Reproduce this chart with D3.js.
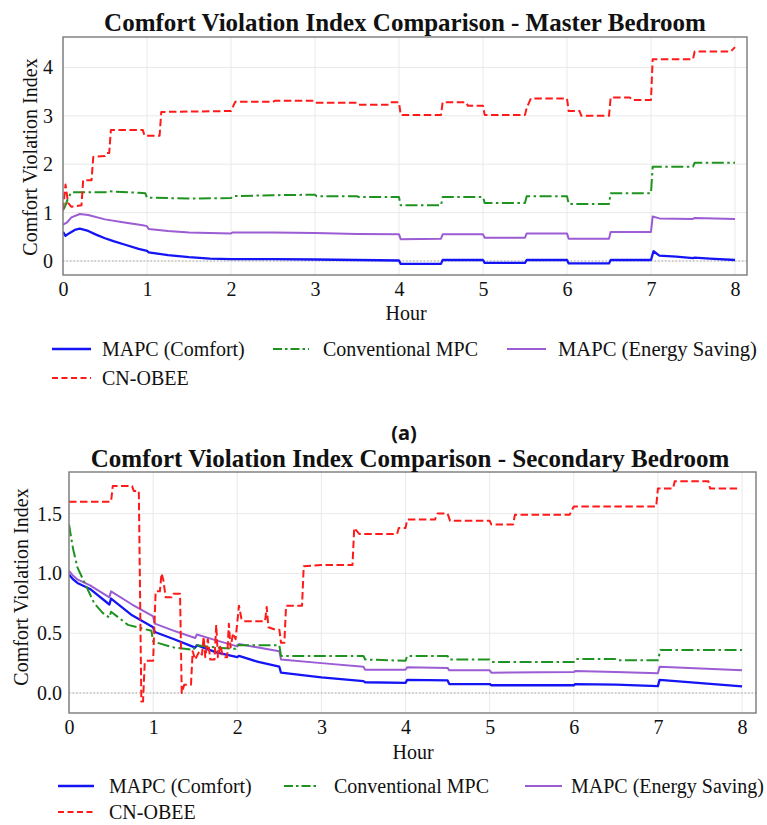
<!DOCTYPE html>
<html><head><meta charset="utf-8">
<script src="https://cdn.jsdelivr.net/npm/d3@7"></script>
<style>
html,body{margin:0;padding:0;background:#fff;}
svg text{font-family:"Liberation Serif","Times New Roman",serif;fill:#111;}
</style></head>
<body>
<svg id="chart" width="767" height="825"></svg>
<script>
// ---------- DATA ----------
const seriesNames = ["MAPC (Comfort)", "Conventional MPC", "MAPC (Energy Saving)", "CN-OBEE"];
const xTickValues = [0, 1, 2, 3, 4, 5, 6, 7, 8];
const masterYTicks = [0, 1, 2, 3, 4];
const secondaryYTicks = [0, 0.5, 1.0, 1.5];

// Master bedroom
const masterComfortHours = [0,0.03,0.08,0.15,0.2,0.3,0.4,0.5,0.6,0.75,0.9,1.0,1.02,1.25,1.5,1.75,2.0,2.5,3.0,3.5,4.0,4.02,4.5,4.52,5.0,5.02,5.5,5.52,6.0,6.02,6.5,6.52,7.0,7.03,7.1,7.3,7.5,7.52,7.7,8.0];
const masterComfortValues = [0.60,0.52,0.58,0.65,0.67,0.62,0.54,0.47,0.41,0.33,0.25,0.21,0.18,0.12,0.08,0.05,0.04,0.04,0.03,0.02,0.01,-0.06,-0.06,0.02,0.02,-0.04,-0.04,0.02,0.02,-0.05,-0.05,0.02,0.02,0.20,0.11,0.09,0.06,0.07,0.05,0.02];

const masterMpcHours = [0,0.03,0.06,0.1,0.3,0.5,0.55,0.9,0.98,1.0,1.5,2.0,2.02,2.5,3.0,3.02,3.5,3.52,4.0,4.02,4.5,4.52,5.0,5.02,5.5,5.52,6.0,6.02,6.5,6.52,7.0,7.02,7.5,7.52,8.0];
const masterMpcValues = [1.05,1.15,1.30,1.42,1.42,1.42,1.44,1.41,1.40,1.31,1.29,1.30,1.34,1.36,1.37,1.34,1.34,1.32,1.32,1.15,1.15,1.32,1.32,1.20,1.20,1.34,1.34,1.18,1.18,1.40,1.40,1.95,1.95,2.03,2.03];

const masterEnergyHours = [0,0.05,0.1,0.2,0.3,0.5,0.75,0.95,1.0,1.02,1.25,1.5,2.0,2.02,2.5,3.0,3.5,4.0,4.02,4.5,4.52,5.0,5.02,5.5,5.52,6.0,6.02,6.5,6.52,7.0,7.02,7.1,7.5,7.52,8.0];
const masterEnergyValues = [0.75,0.80,0.90,0.97,0.95,0.86,0.79,0.74,0.72,0.66,0.62,0.59,0.57,0.59,0.59,0.58,0.56,0.55,0.45,0.46,0.55,0.55,0.48,0.48,0.57,0.57,0.46,0.46,0.60,0.60,0.92,0.88,0.87,0.89,0.87];

const masterObeeHours = [0,0.03,0.06,0.1,0.22,0.24,0.34,0.36,0.5,0.52,0.55,0.57,0.95,0.97,1.15,1.17,2.0,2.05,2.5,2.52,3.0,3.02,3.5,3.52,3.88,3.9,4.0,4.02,4.5,4.52,4.8,4.82,5.0,5.02,5.5,5.52,5.57,6.0,6.02,6.15,6.17,6.5,6.52,6.75,6.77,7.0,7.02,7.5,7.52,7.95,8.0];
const masterObeeValues = [1.05,1.58,1.20,1.12,1.15,1.67,1.67,2.15,2.17,2.23,2.23,2.71,2.71,2.59,2.59,3.08,3.10,3.29,3.29,3.31,3.31,3.27,3.27,3.23,3.23,3.28,3.28,3.02,3.02,3.28,3.28,3.21,3.21,3.02,3.02,3.16,3.36,3.36,3.10,3.10,3.00,3.00,3.38,3.38,3.33,3.33,4.17,4.17,4.33,4.33,4.42];

// Secondary bedroom
const secondaryComfortHours = [0,0.05,0.1,0.25,0.48,0.5,0.75,1.0,1.02,1.25,1.5,1.52,1.75,2.0,2.02,2.25,2.5,2.52,3.0,3.5,3.52,4.0,4.02,4.5,4.52,5.0,5.02,6.0,6.02,6.5,7.0,7.02,8.0];
const secondaryComfortValues = [0.99,0.95,0.92,0.87,0.74,0.79,0.65,0.55,0.51,0.45,0.38,0.40,0.34,0.30,0.31,0.26,0.22,0.17,0.13,0.10,0.09,0.085,0.11,0.105,0.075,0.075,0.065,0.065,0.075,0.07,0.058,0.11,0.056];

const secondaryMpcHours = [0,0.03,0.05,0.1,0.2,0.3,0.4,0.48,0.5,0.7,0.98,1.0,1.25,1.48,1.5,1.75,1.98,2.0,2.5,2.52,3.0,3.5,3.52,4.0,4.02,4.5,4.52,5.0,5.02,6.0,6.02,6.5,6.52,7.0,7.03,8.0];
const secondaryMpcValues = [1.41,1.28,1.20,1.05,0.90,0.75,0.67,0.63,0.68,0.57,0.52,0.43,0.38,0.36,0.40,0.38,0.37,0.40,0.40,0.31,0.31,0.31,0.28,0.27,0.31,0.31,0.28,0.28,0.26,0.26,0.285,0.285,0.275,0.275,0.36,0.36];

const secondaryEnergyHours = [0,0.05,0.1,0.25,0.48,0.5,0.75,0.98,1.0,1.02,1.25,1.5,1.52,1.75,2.0,2.02,2.25,2.5,2.52,3.0,3.5,3.52,4.0,4.02,4.5,4.52,5.0,5.02,6.0,6.02,6.5,7.0,7.02,8.0];
const secondaryEnergyValues = [1.02,0.98,0.95,0.90,0.80,0.85,0.74,0.65,0.64,0.58,0.52,0.46,0.49,0.44,0.39,0.41,0.38,0.35,0.28,0.25,0.22,0.195,0.195,0.215,0.21,0.19,0.19,0.17,0.175,0.185,0.175,0.165,0.22,0.19];

const secondaryObeeHours = [0,0.5,0.52,0.75,0.77,0.83,0.86,0.88,0.9,0.92,1.0,1.03,1.08,1.1,1.12,1.15,1.22,1.24,1.32,1.34,1.37,1.45,1.47,1.5,1.55,1.58,1.6,1.62,1.65,1.68,1.73,1.75,1.77,1.8,1.83,1.88,1.9,1.92,1.95,1.98,2.02,2.05,2.08,2.33,2.35,2.37,2.45,2.5,2.52,2.56,2.58,2.77,2.79,3.0,3.37,3.39,3.45,3.9,3.92,4.0,4.02,4.35,4.38,4.5,4.53,5.0,5.02,5.28,5.3,5.95,6.0,6.98,7.0,7.18,7.2,7.6,7.62,7.98];
const secondaryObeeValues = [1.60,1.60,1.73,1.73,1.69,1.69,-0.07,-0.07,0.25,0.27,0.27,0.85,0.85,1.00,0.95,0.80,0.80,0.83,0.83,0.00,0.07,0.07,0.35,0.28,0.35,0.32,0.47,0.30,0.45,0.28,0.28,0.57,0.30,0.40,0.30,0.30,0.58,0.38,0.50,0.45,0.73,0.62,0.60,0.60,0.72,0.55,0.53,0.53,0.42,0.42,0.73,0.73,1.06,1.07,1.07,1.38,1.33,1.33,1.38,1.38,1.45,1.45,1.50,1.50,1.44,1.44,1.41,1.41,1.49,1.49,1.56,1.56,1.71,1.71,1.77,1.77,1.71,1.71];

// ---------- STYLE ----------
const styles = [
  {color:"#1414f5", width:2.3, dash:null},
  {color:"#1f931f", width:2, dash:"12,3.5,2.5,3.5"},
  {color:"#9b5cd4", width:2, dash:null},
  {color:"#ff1a1a", width:2, dash:"7.5,3.5"}
];
const serif = "'Liberation Serif','Times New Roman',serif";

const svg = d3.select("#chart");
const zip = (xs, ys) => xs.map((h, i) => [h, ys[i]]);

function drawPanel(cfg) {
  const g = svg.append("g");
  const x = d3.scaleLinear().domain(cfg.xDomain).range([cfg.left, cfg.right]);
  const y = d3.scaleLinear().domain(cfg.yDomain).range([cfg.bottom, cfg.top]);

  // grid
  g.append("g").selectAll("line").data(xTickValues).join("line")
    .attr("x1", d => x(d)).attr("x2", d => x(d))
    .attr("y1", cfg.top).attr("y2", cfg.bottom)
    .attr("stroke", "#e9e9e9").attr("stroke-width", 1);
  g.append("g").selectAll("line").data(cfg.yTicks).join("line")
    .attr("x1", cfg.left).attr("x2", cfg.right)
    .attr("y1", d => y(d)).attr("y2", d => y(d))
    .attr("stroke", "#e9e9e9").attr("stroke-width", 1);

  // zero reference line
  g.append("line")
    .attr("x1", cfg.left).attr("x2", cfg.right)
    .attr("y1", y(0)).attr("y2", y(0))
    .attr("stroke", "#a8a8a8").attr("stroke-width", 1.1)
    .attr("stroke-dasharray", "1.5,2");

  // series
  const clipId = "clip" + cfg.id;
  svg.append("clipPath").attr("id", clipId).append("rect")
    .attr("x", cfg.left).attr("y", cfg.top)
    .attr("width", cfg.right - cfg.left).attr("height", cfg.bottom - cfg.top);
  const line = d3.line().x(d => x(d[0])).y(d => y(d[1]));
  const order = [0, 2, 1, 3];
  order.forEach(i => {
    const s = cfg.series[i];
    g.append("path")
      .attr("clip-path", `url(#${clipId})`)
      .attr("d", line(zip(s[0], s[1])))
      .attr("fill", "none")
      .attr("stroke", styles[i].color)
      .attr("stroke-width", styles[i].width)
      .attr("stroke-linejoin", "round")
      .attr("stroke-dasharray", styles[i].dash);
  });

  // frame
  g.append("rect")
    .attr("x", cfg.left).attr("y", cfg.top)
    .attr("width", cfg.right - cfg.left).attr("height", cfg.bottom - cfg.top)
    .attr("fill", "none").attr("stroke", "#7a7a7a").attr("stroke-width", 1.4);

  // axes
  const xa = g.append("g").attr("transform", `translate(0,${cfg.bottom})`)
    .call(d3.axisBottom(x).tickValues(xTickValues).tickSize(0).tickPadding(7).tickFormat(d3.format("d")));
  xa.select(".domain").remove();
  xa.attr("font-family", null);
  xa.selectAll("text").style("font-size", "20px").style("font-family", serif).attr("fill", "#111");

  const ya = g.append("g").attr("transform", `translate(${cfg.left},0)`)
    .call(d3.axisLeft(y).tickValues(cfg.yTicks).tickSize(0).tickPadding(cfg.yPad).tickFormat(cfg.yFormat));
  ya.select(".domain").remove();
  ya.attr("font-family", null);
  ya.selectAll("text").style("font-size", "20px").style("font-family", serif).attr("fill", "#111");

  // titles
  g.append("text").attr("x", cfg.titleX).attr("y", cfg.titleY)
    .attr("text-anchor", "middle").style("font-size", "25px").style("font-weight", "bold")
    .text(cfg.title);
  g.append("text").attr("transform", `translate(${cfg.yLabelX},${cfg.yLabelY}) rotate(-90)`)
    .attr("text-anchor", "middle").attr("dominant-baseline", "central")
    .style("font-size", "20px").text("Comfort Violation Index");
  g.append("text").attr("x", cfg.hourX).attr("y", cfg.hourY)
    .attr("text-anchor", "middle").attr("dominant-baseline", "central")
    .style("font-size", "20px").text("Hour");

  // legend
  const lg = g.append("g");
  cfg.legend.forEach(it => {
    const i = it.s;
    lg.append("line").attr("x1", it.x1).attr("x2", it.x2).attr("y1", it.y).attr("y2", it.y)
      .attr("stroke", styles[i].color).attr("stroke-width", styles[i].width)
      .attr("stroke-dasharray", i === 1 ? "9,3,2.5,3" : (i === 3 ? "6,3.5" : null));
    const t = lg.append("text").attr("x", it.tx).attr("y", it.y).attr("dominant-baseline", "central")
      .style("font-size", "20px").text(seriesNames[i]);
    if (it.len) t.attr("textLength", it.len).attr("lengthAdjust", "spacingAndGlyphs");
  });
}

drawPanel({
  id: "a", left: 63, right: 747, top: 37, bottom: 275,
  xDomain: [0, 8.143], yDomain: [-0.29, 4.63], yTicks: masterYTicks, yPad: 10,
  yFormat: d3.format("d"),
  title: "Comfort Violation Index Comparison - Master Bedroom", titleX: 405, titleY: 31,
  yLabelX: 30, yLabelY: 157, hourX: 406, hourY: 313,
  series: [[masterComfortHours, masterComfortValues],[masterMpcHours, masterMpcValues],[masterEnergyHours, masterEnergyValues],[masterObeeHours, masterObeeValues]],
  legend: [
    {s:0, x1:52, x2:91, tx:102, y:349},
    {s:1, x1:273, x2:309, tx:323, y:349},
    {s:2, x1:507, x2:546, tx:558, y:349, len:199},
    {s:3, x1:52, x2:91, tx:102, y:378}
  ]
});

drawPanel({
  id: "b", left: 69, right: 756, top: 472, bottom: 713,
  xDomain: [0, 8.166], yDomain: [-0.167, 1.848], yTicks: secondaryYTicks, yPad: 7,
  yFormat: d3.format(".1f"),
  title: "Comfort Violation Index Comparison - Secondary Bedroom", titleX: 410, titleY: 467,
  yLabelX: 21, yLabelY: 587, hourX: 413, hourY: 752,
  series: [[secondaryComfortHours, secondaryComfortValues],[secondaryMpcHours, secondaryMpcValues],[secondaryEnergyHours, secondaryEnergyValues],[secondaryObeeHours, secondaryObeeValues]],
  legend: [
    {s:0, x1:58, x2:94, tx:109, y:786},
    {s:1, x1:284, x2:318, tx:334, y:786},
    {s:2, x1:525, x2:562, tx:571, y:786, len:193},
    {s:3, x1:58, x2:94, tx:109, y:812}
  ]
});

// panel label
svg.append("text").attr("x", 404).attr("y", 432)
  .attr("text-anchor", "middle").attr("dominant-baseline", "central")
  .style("font-family", "'Noto Sans', sans-serif").style("font-weight", "bold").style("font-size", "20px")
  .text("(a)");
</script>
</body></html>
